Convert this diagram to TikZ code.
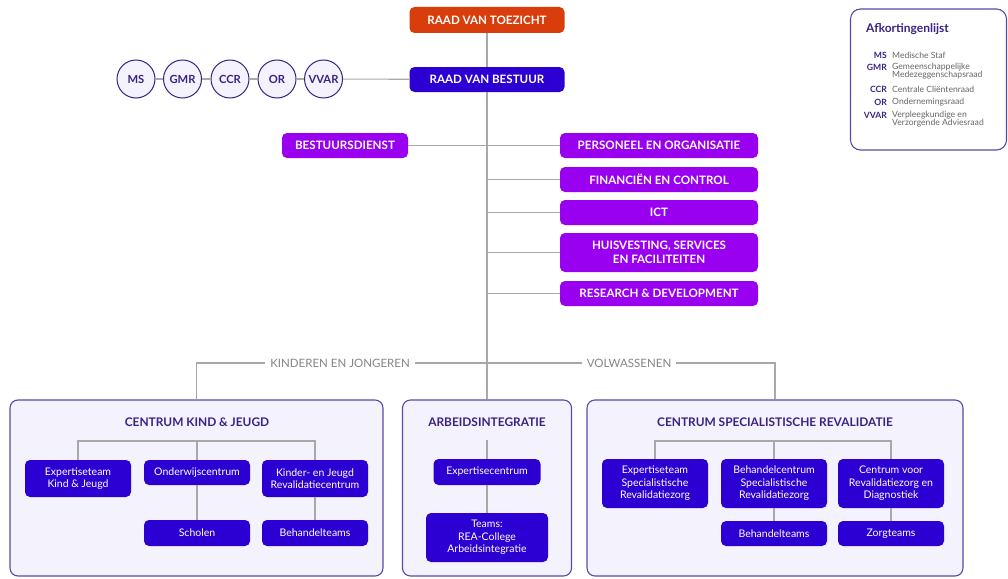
\documentclass[tikz,border=0pt]{standalone}
\usepackage{fontspec}
\setmainfont{Lato}
\definecolor{rvtc}{HTML}{D93D0C}
\definecolor{navy}{HTML}{2C00D2}
\definecolor{purp}{HTML}{9A00F0}
\definecolor{lineg}{HTML}{A8A8A8}
\definecolor{dpurp}{HTML}{3B2283}
\definecolor{lav}{HTML}{F4F2FD}
\definecolor{framec}{HTML}{5E47A8}
\definecolor{txtg}{HTML}{858585}
\definecolor{legg}{HTML}{666666}
\begin{document}
\begin{tikzpicture}[x=1pt,y=-1pt,
  conn/.style={draw=lineg, line width=1.1pt},
  boxbase/.style={rounded corners=5pt, inner sep=0pt, align=center, text=white},
  topbox/.style={boxbase, font=\fontsize{11.6}{13}\selectfont\bfseries, minimum width=155, minimum height=26},
  deptbox/.style={boxbase, fill=purp, font=\fontsize{11.6}{14}\selectfont\bfseries, minimum height=25},
  subbox/.style={boxbase, fill=navy, font=\fontsize{10.5}{12.5}\selectfont, minimum width=106},
  circ/.style={circle, draw=dpurp, line width=1pt, fill=lav, minimum size=38, inner sep=0pt, text=dpurp, font=\fontsize{11.2}{13}\selectfont\bfseries},
  framebox/.style={rounded corners=8pt, draw=framec, line width=1.1pt, fill=lav, inner sep=0pt},
  frametitle/.style={text=dpurp, font=\fontsize{11.9}{13}\selectfont\bfseries, inner sep=0pt},
  grouplbl/.style={text=txtg, font=\fontsize{11.5}{13}\selectfont, inner sep=5pt},
  abbr/.style={anchor=east, text=dpurp, font=\fontsize{8.6}{10}\selectfont\bfseries, inner sep=0pt},
  desc/.style={anchor=west, text=legg, font=\fontsize{8.6}{10}\selectfont, inner sep=0pt}
]
\useasboundingbox (0,0) rectangle (1008,578);
\fill[white] (0,0) rectangle (1008,578);

% legend
\node[draw=framec, line width=1.1pt, rounded corners=10pt, fill=white, minimum width=156, minimum height=141, inner sep=0pt] (leg) at (928.5,79.5) {};
\node[anchor=west, text=dpurp, font=\fontsize{12}{14}\selectfont\bfseries, inner sep=0pt] (legt) at (866,29) {Afkortingenlijst};
\node[abbr] (la1) at (887,55) {MS};
\node[desc] (ld1) at (892,55) {Medische Staf};
\node[abbr] (la2) at (887,67) {GMR};
\node[desc] (ld2) at (892,67) {Gemeenschappelijke};
\node[desc] (ld2b) at (892,75.5) {Medezeggenschapsraad};
\node[abbr] (la3) at (887,89) {CCR};
\node[desc] (ld3) at (892,89) {Centrale Cliëntenraad};
\node[abbr] (la4) at (887,102) {OR};
\node[desc] (ld4) at (892,102) {Ondernemingsraad};
\node[abbr] (la5) at (887,115) {VVAR};
\node[desc] (ld5) at (892,115) {Verpleegkundige en};
\node[desc] (ld5b) at (892,123.5) {Verzorgende Adviesraad};

% frames
\node[framebox, minimum width=373, minimum height=176] (kjf) at (196.5,488) {};
\node[framebox, minimum width=169, minimum height=176] (aif) at (487,488) {};
\node[framebox, minimum width=376, minimum height=176] (csf) at (775,488) {};

% top
\node[topbox, fill=rvtc] (rvt) at (487,20) {RAAD VAN TOEZICHT};
\node[topbox, fill=navy, minimum height=25] (rvb) at (487,79.5) {RAAD VAN BESTUUR};

\node[circ] (ms) at (136,79) {MS};
\node[circ] (gmr) at (182.5,79) {GMR};
\node[circ] (ccr) at (230,79) {CCR};
\node[circ] (or) at (277,79) {OR};
\node[circ] (vvar) at (323.5,79) {VVAR};

\node[deptbox, minimum width=126] (bd) at (345,145.5) {BESTUURSDIENST};
\node[deptbox, minimum width=198] (po) at (659,145.5) {PERSONEEL EN ORGANISATIE};
\node[deptbox, minimum width=198] (fc) at (659,179.5) {FINANCIËN EN CONTROL};
\node[deptbox, minimum width=198] (ict) at (659,212.5) {ICT};
\node[deptbox, minimum width=198, minimum height=39] (hsf) at (659,252.5) {HUISVESTING, SERVICES\\EN FACILITEITEN};
\node[deptbox, minimum width=198] (rd) at (659,293.5) {RESEARCH \& DEVELOPMENT};

% group labels
\node[grouplbl] (kjl) at (340,363) {KINDEREN EN JONGEREN};
\node[grouplbl] (vwl) at (629,363) {VOLWASSENEN};

% frame titles
\node[frametitle] (kjt) at (197,422) {CENTRUM KIND \& JEUGD};
\node[frametitle] (ait) at (487,422) {ARBEIDSINTEGRATIE};
\node[frametitle] (cst) at (775,422) {CENTRUM SPECIALISTISCHE REVALIDATIE};

% left frame
\node[subbox, minimum height=37] (ek) at (78,478.5) {Expertiseteam\\Kind \& Jeugd};
\node[subbox, minimum height=25] (ow) at (197,472.5) {Onderwijscentrum};
\node[subbox, minimum height=37] (kjr) at (315,478.5) {Kinder- en Jeugd\\Revalidatiecentrum};
\node[subbox, minimum height=26] (sch) at (197,533) {Scholen};
\node[subbox, minimum height=26] (bt1) at (315,533) {Behandelteams};

% middle frame
\node[subbox, minimum width=107, minimum height=26] (ec) at (487,472) {Expertisecentrum};
\node[subbox, minimum width=122, minimum height=49] (tm) at (487,537.5) {Teams:\\REA-College\\Arbeidsintegratie};

% right frame
\node[subbox, minimum height=49] (es) at (655,483.5) {Expertiseteam\\Specialistische\\Revalidatiezorg};
\node[subbox, minimum height=49] (bc) at (774,483.5) {Behandelcentrum\\Specialistische\\Revalidatiezorg};
\node[subbox, minimum height=49] (cv) at (891,483.5) {Centrum voor\\Revalidatiezorg en\\Diagnostiek};
\node[subbox, minimum height=25] (bt2) at (774,533.5) {Behandelteams};
\node[subbox, minimum height=25] (zt) at (891,533.5) {Zorgteams};

% coordinates
\coordinate (kjc) at (197,441);
\coordinate (aic) at (487,440);
\coordinate (csc) at (774,441);

% connectors
\draw[conn] (rvt) -- (rvb);
\draw[conn] (rvb) -- (aif.north);
\draw[conn] (ms) -- (gmr);
\draw[conn] (gmr) -- (ccr);
\draw[conn] (ccr) -- (or);
\draw[conn] (or) -- (vvar);
\draw[conn] (vvar) -- (rvb);
\draw[conn] (bd) -- (po);
\draw[conn] (rvb.south |- fc.west) -- (fc.west);
\draw[conn] (rvb.south |- ict.west) -- (ict.west);
\draw[conn] (rvb.south |- hsf.west) -- (hsf.west);
\draw[conn] (rvb.south |- rd.west) -- (rd.west);
\draw[conn] (kjf.north) |- (kjl.west);
\draw[conn] (kjl.east) -- (vwl.west);
\draw[conn] (vwl.east) -| (csf.north);

\draw[conn] (ek.north) |- (kjc) -| (kjr.north);
\draw[conn] (kjc) -- (ow.north);
\draw[conn] (ow) -- (sch);
\draw[conn] (kjr) -- (bt1);

\draw[conn] (aic) -- (ec.north);
\draw[conn] (ec) -- (tm);

\draw[conn] (es.north) |- (csc) -| (cv.north);
\draw[conn] (csc) -- (bc.north);
\draw[conn] (bc) -- (bt2);
\draw[conn] (cv) -- (zt);
\end{tikzpicture}
\end{document}
